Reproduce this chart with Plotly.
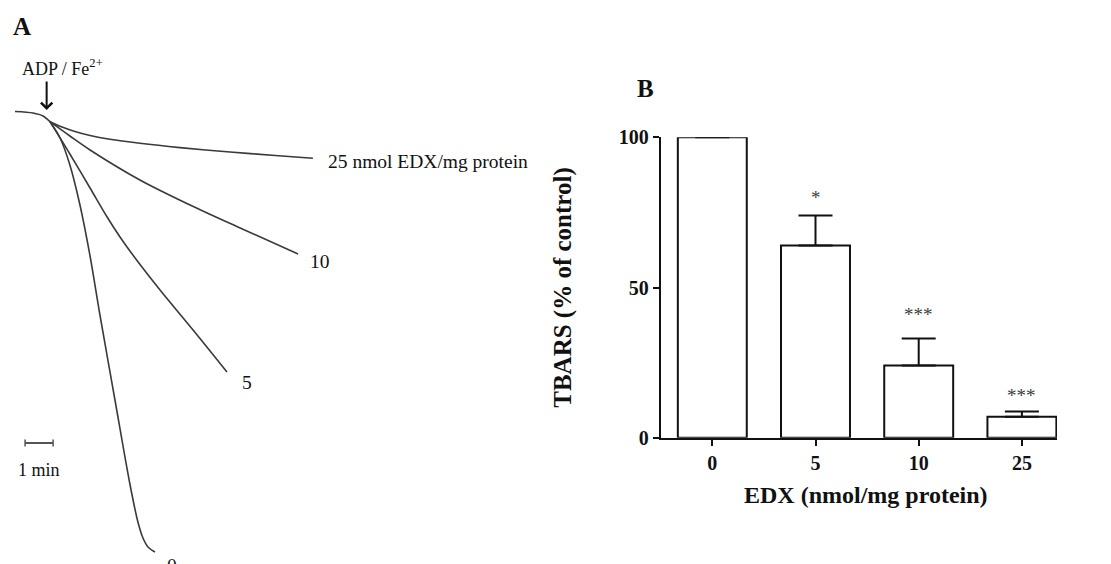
import plotly.graph_objects as go

# ---------------- Panel A data (time in min, O2 signal in % of initial) ----------------
base_t = [-1.25, -0.61, -0.25, 0.0]
base_s = [99.7, 99.4, 98.8, 97.66]

t_25 = [0, 0.43, 0.89, 1.43, 2.14, 3.21, 4.64, 6.43, 8.04, 9.39]
s_25 = [97.66, 96.6, 95.7, 94.9, 94.14, 93.34, 92.48, 91.6, 90.9, 90.34]

t_10 = [0, 0.71, 1.43, 3.21, 5.0, 6.79, 8.86]
s_10 = [97.66, 94.8, 92.0, 86.0, 81.0, 76.4, 71.2]

t_5 = [0, 0.71, 1.43, 2.04, 2.5, 3.04, 3.93, 5.11, 6.32]
s_5 = [97.66, 91.2, 84.4, 78.6, 74.6, 70.4, 64.0, 56.0, 47.6]

t_0 = [0, 0.36, 0.71, 1.07, 1.43, 1.79, 2.32, 2.86, 3.14, 3.32, 3.5, 3.75]
s_0 = [97.66, 94.4, 89.0, 81.0, 70.8, 58.8, 42.0, 25.0, 17.6, 14.4, 12.6, 11.6]

curve_labels = ["25 nmol EDX/mg protein", "10", "5", "0"]

scale_t = [-0.89, 0.11]   # 1 min scale bar
scale_s = [33.4, 33.4]

addition_t = -0.12        # time of ADP / Fe2+ addition (arrow)
addition_s = 100.0

# ---------------- Panel B data ----------------
doses = ["0", "5", "10", "25"]
tbars = [100, 64, 24, 7]
sem = [0, 10, 9, 1.7]
signif = ["", "*", "***", "***"]

W, H = 1111, 564
LINE = "#3a3a3a"
SERIF = "Liberation Serif, Times New Roman, serif"
TXT = "#111111"

fig = go.Figure()

# Panel A traces
fig.add_trace(go.Scatter(x=base_t, y=base_s, mode="lines", xaxis="x2", yaxis="y2",
                         line=dict(color=LINE, width=1.6, shape="spline", smoothing=0.8),
                         showlegend=False, hoverinfo="skip"))
curves = [(t_25, s_25), (t_10, s_10), (t_5, s_5), (t_0, s_0)]
for (tt, ss) in curves:
    fig.add_trace(go.Scatter(x=tt, y=ss, mode="lines", xaxis="x2", yaxis="y2",
                             line=dict(color=LINE, width=1.6, shape="spline", smoothing=0.9),
                             showlegend=False, hoverinfo="skip"))

fig.add_trace(go.Scatter(x=scale_t, y=scale_s, mode="lines+markers", xaxis="x2", yaxis="y2",
                         line=dict(color="#555555", width=2),
                         marker=dict(symbol="line-ns", size=5, line=dict(color="#555555", width=1.5)),
                         showlegend=False, hoverinfo="skip"))

# Panel B bars
fig.add_trace(go.Bar(x=doses, y=tbars, width=0.668, xaxis="x", yaxis="y",
                     marker=dict(color="white", line=dict(color=TXT, width=2)),
                     error_y=dict(type="data", array=sem, arrayminus=[0] * len(sem), symmetric=False,
                                  color=TXT, thickness=2, width=17),
                     showlegend=False, hoverinfo="skip"))

annotations = []
# curve end labels
offsets = [(13, -3), (10, -7), (13, -10), (10, -13)]
for (tt, ss), lab, (dx, dy) in zip(curves, curve_labels, offsets):
    annotations.append(dict(x=tt[-1], y=ss[-1], xref="x2", yref="y2", text=lab, showarrow=False,
                            xanchor="left", yanchor="middle", xshift=dx, yshift=dy,
                            font=dict(family=SERIF, size=19.5, color=TXT)))
# scale label
annotations.append(dict(x=sum(scale_t) / 2, y=scale_s[0], xref="x2", yref="y2", text="1 min",
                        showarrow=False, xanchor="center", yanchor="middle", yshift=-27,
                        font=dict(family=SERIF, size=18, color=TXT)))
# ADP/Fe arrow
annotations.append(dict(x=addition_t, y=addition_s, xref="x2", yref="y2", text="", showarrow=True,
                        ax=0, ay=-30, arrowhead=4, arrowsize=1.1, arrowwidth=2, arrowcolor=TXT))
annotations.append(dict(x=addition_t, y=addition_s, xref="x2", yref="y2",
                        text="ADP / Fe<sup style='font-size:12px'>2+</sup>",
                        showarrow=False, xanchor="center", yanchor="middle", yshift=43, xshift=16,
                        font=dict(family=SERIF, size=18, color=TXT)))
# panel letters
annotations.append(dict(x=22 / W, y=1 - 27 / H, xref="paper", yref="paper", text="<b>A</b>",
                        xanchor="center", yanchor="middle",
                        showarrow=False, font=dict(family=SERIF, size=25, color=TXT)))
annotations.append(dict(x=645 / W, y=1 - 88 / H, xref="paper", yref="paper", text="<b>B</b>",
                        xanchor="center", yanchor="middle",
                        showarrow=False, font=dict(family=SERIF, size=25, color=TXT)))
# x-axis title of panel B
annotations.append(dict(x=866 / W, y=1 - 495 / H, xref="paper", yref="paper",
                        text="EDX (nmol/mg protein)", xanchor="center", yanchor="middle",
                        showarrow=False, font=dict(family=SERIF, size=24, color=TXT, weight="bold")))
# significance stars
star_shift = [14, 18, 24, 16]
for i, (v, e, s) in enumerate(zip(tbars, sem, signif)):
    if s:
        annotations.append(dict(x=i, y=v + e, xref="x", yref="y", text=s, showarrow=False,
                                xanchor="center", yanchor="middle", yshift=star_shift[i],
                                font=dict(family=SERIF, size=19, color="#3c3c3c")))

fig.update_layout(
    width=W, height=H, margin=dict(l=0, r=0, t=0, b=0),
    paper_bgcolor="white", plot_bgcolor="white",
    xaxis=dict(domain=[660.7 / W, 1057 / W], range=[-0.5, 3.34], type="category",
               showline=True, linecolor=TXT, linewidth=2, ticks="outside", ticklen=6, tickwidth=2,
               tickcolor=TXT, showgrid=False, zeroline=False, automargin=False,
               tickfont=dict(family=SERIF, size=20, color=TXT, weight="bold"),
               anchor="y"),
    yaxis=dict(domain=[1 - 437.7 / H, 1 - 137.3 / H], range=[0, 100], tickvals=[0, 50, 100],
               showline=True, linecolor=TXT, linewidth=2, ticks="outside", ticklen=6, tickwidth=2,
               tickcolor=TXT, showgrid=False, zeroline=False, automargin=False,
               tickfont=dict(family=SERIF, size=20, color=TXT, weight="bold"),
               title=dict(text="TBARS (% of control)", standoff=40,
                          font=dict(family=SERIF, size=25, color=TXT, weight="bold")),
               anchor="x"),
    xaxis2=dict(domain=[0, 560 / W], range=[-50 / 28, 510 / 28], visible=False, anchor="y2"),
    yaxis2=dict(domain=[0, 1], range=[9.2, 122], visible=False, anchor="x2"),
    annotations=annotations,
)

fig.write_html("out.html")
